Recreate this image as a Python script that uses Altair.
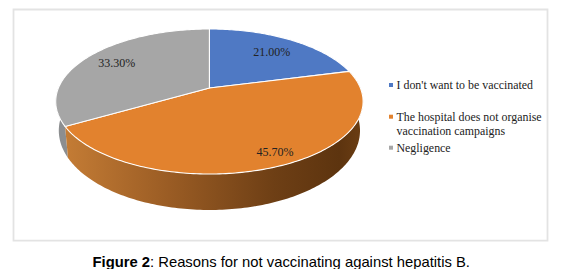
import math
import altair as alt
import pandas as pd

categories = ["I don't want to be vaccinated",
              "The hospital does not organise vaccination campaigns",
              "Negligence"]
values = [21.00, 45.70, 33.30]
colors = ["#4f79c4", "#e2822e", "#a6a6a6"]
caption_bold = "Figure 2"
caption_rest = ": Reasons for not vaccinating against hepatitis B."

# layout of the tilted pie, in picture pixels
APEX_X, APEX_Y = 209.4, 88.0
RX, A, C = 151.0, 70.0, 0.186
BOTTOM_DROP, BOTTOM_KX, BOTTOM_KY = 27.8, 0.98, 1.095


def top_point(deg):
    t = math.radians(deg)
    d = 1 + C * math.cos(t)
    return RX * math.sin(t) / d, -A * math.cos(t) / d


def arc_degrees(a, b):
    n = max(2, int(abs(b - a)))
    return [a + (b - a) * i / n for i in range(n + 1)]


starts, acc = [], 0.0
for v in values:
    starts.append(acc * 3.6)
    acc += v

top_rows, side_rows = [], []
for cat, v, s in zip(categories, values, starts):
    e = s + v * 3.6
    i = 0
    top_rows.append(dict(cat=cat, i=i, x=APEX_X, y=APEX_Y))
    for deg in arc_degrees(s, e):
        i += 1
        px, py = top_point(deg)
        top_rows.append(dict(cat=cat, i=i, x=APEX_X + px, y=APEX_Y + py))

    # the wall of the pie: only the slices that reach the front
    if cat == categories[0]:
        continue
    wall_end = min(e, 272)
    degs = arc_degrees(s, wall_end)
    i = 0
    for deg in degs:
        px, py = top_point(deg)
        side_rows.append(dict(cat=cat, i=i, x=APEX_X + px, y=APEX_Y + py))
        i += 1
    for deg in reversed(degs):
        px, py = top_point(deg)
        side_rows.append(dict(cat=cat, i=i, x=APEX_X + BOTTOM_KX * px,
                              y=APEX_Y + BOTTOM_DROP + BOTTOM_KY * py))
        i += 1

top_df = pd.DataFrame(top_rows)
side_df = pd.DataFrame(side_rows)

X = alt.Scale(domain=[8, 579], range=[0, 571], nice=False, zero=False)
Y = alt.Scale(domain=[8, 269], range=[0, 261], nice=False, zero=False)
xq = alt.X("x:Q", scale=X, axis=None)
yq = alt.Y("y:Q", scale=Y, axis=None)

frame = alt.Chart(pd.DataFrame([dict(x=13.5, x2=547.5, y=9.5, y2=240.7)])).mark_rect(
    fill="white", stroke="#e3e3e3", strokeWidth=1.8
).encode(xq, yq, x2="x2:Q", y2="y2:Q")

orange_side = alt.Chart(side_df[side_df.cat == categories[1]]).mark_line(
    interpolate="linear-closed", strokeWidth=0,
    fill=alt.Gradient(gradient="linear", x1=0, x2=1, y1=0, y2=0, stops=[
        alt.GradientStop(offset=0, color="#c47c35"),
        alt.GradientStop(offset=0.35, color="#9a5c24"),
        alt.GradientStop(offset=0.7, color="#6e3f15"),
        alt.GradientStop(offset=0.92, color="#5d340f"),
        alt.GradientStop(offset=1, color="#6c3e13"),
    ]),
).encode(xq, yq, order="i:Q")

grey_side = alt.Chart(side_df[side_df.cat == categories[2]]).mark_line(
    interpolate="linear-closed", strokeWidth=0, fill="#8c8e90"
).encode(xq, yq, order="i:Q")

faces = alt.Chart(top_df).mark_line(
    interpolate="linear-closed", stroke="white", strokeWidth=1.1
).encode(
    xq, yq, order="i:Q", detail="cat:N",
    fill=alt.Fill("cat:N", scale=alt.Scale(domain=categories, range=colors), legend=None),
)

value_labels = pd.DataFrame({
    "label": [f"{v:.2f}%" for v in values],
    "x": [271.7, 275.0, 116.7],
    "y": [52.3, 152.0, 63.3],
})
slice_text = alt.Chart(value_labels).mark_text(
    font="Liberation Serif", fontSize=12, color="#222222", align="center", baseline="middle"
).encode(xq, yq, text="label:N")

legend_lines = pd.DataFrame({
    "label": ["I don't want to be vaccinated", "The hospital does not organise",
              "vaccination campaigns", "Negligence"],
    "x": [396.5] * 4,
    "y": [85.0, 116.7, 130.5, 147.7],
})
legend_text = alt.Chart(legend_lines).mark_text(
    font="Liberation Serif", fontSize=11.9, color="#222222", align="left", baseline="middle"
).encode(xq, yq, text="label:N")

legend_keys = pd.DataFrame({"cat": categories, "x": [391.0] * 3, "y": [85.0, 116.7, 147.7]})
legend_marks = alt.Chart(legend_keys).mark_point(
    shape="square", filled=True, size=16, opacity=1
).encode(xq, yq, fill=alt.Fill("cat:N", scale=alt.Scale(domain=categories, range=colors), legend=None))

cap1 = alt.Chart(pd.DataFrame([dict(t=caption_bold, x=92.5, y=266.7)])).mark_text(
    font="Liberation Sans", fontSize=14.8, fontWeight="bold", color="#000000",
    align="left", baseline="alphabetic"
).encode(xq, yq, text="t:N")
cap2 = alt.Chart(pd.DataFrame([dict(t=caption_rest, x=150.0, y=266.7)])).mark_text(
    font="Liberation Sans", fontSize=14.8, color="#000000",
    align="left", baseline="alphabetic"
).encode(xq, yq, text="t:N")

chart = alt.layer(
    frame, grey_side, orange_side, faces, slice_text, legend_marks, legend_text, cap1, cap2
).properties(
    width=571, height=261, padding=0, background="white",
    autosize=alt.AutoSizeParams(type="none"),
).configure_view(stroke=None)

chart.save("out.html", embed_options={"renderer": "svg", "actions": False})
